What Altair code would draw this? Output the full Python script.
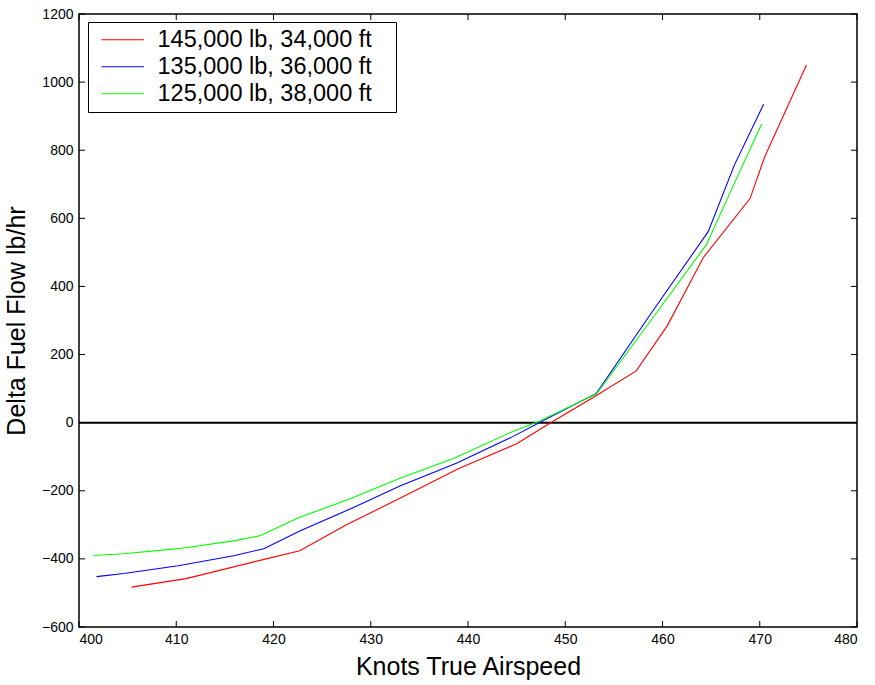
import altair as alt
import pandas as pd

series_names = ["145,000 lb, 34,000 ft", "135,000 lb, 36,000 ft", "125,000 lb, 38,000 ft"]
series_colors = ["#ff0000", "#0000ff", "#00ff00"]

red_x = [405.4, 411.0, 418.5, 422.7, 427.5, 433.0, 439.0, 445.0, 448.5, 453.2, 457.3, 460.5, 464.2, 469.0, 470.5, 474.8]
red_y = [-483, -458, -405, -376, -300, -222, -135, -62, 0, 80, 152, 285, 485, 658, 780, 1050]

blue_x = [401.8, 404.6, 410.2, 415.9, 419.0, 422.7, 428.0, 433.0, 438.8, 444.6, 447.5, 453.2, 458.8, 464.7, 467.4, 470.4]
blue_y = [-452, -443, -420, -391, -370, -318, -252, -186, -119, -41, 3, 86, 320, 561, 757, 935]

green_x = [401.5, 404.6, 410.2, 415.9, 418.6, 422.7, 428.0, 433.0, 438.5, 444.6, 447.2, 453.2, 458.8, 464.5, 467.5, 470.2]
green_y = [-390, -385, -370, -347, -332, -278, -222, -163, -105, -26, 3, 84, 300, 522, 710, 877]

x_ticks = [400, 410, 420, 430, 440, 450, 460, 470, 480]
y_ticks = [-600, -400, -200, 0, 200, 400, 600, 800, 1000, 1200]

W, H = 778, 613
FONT = "Liberation Sans"

rows = []
for name, xs, ys in zip(series_names, [red_x, blue_x, green_x], [red_y, blue_y, green_y]):
    for xv, yv in zip(xs, ys):
        rows.append({"series": name, "x": xv, "y": yv})
df = pd.DataFrame(rows)

xscale = alt.Scale(domain=[400, 480], nice=False, zero=False)
yscale = alt.Scale(domain=[-600, 1200], nice=False, zero=False)

PAD = "\u2800"

lines = alt.Chart(df).mark_line(strokeWidth=1.1).encode(
    x=alt.X("x:Q", scale=xscale,
            axis=alt.Axis(values=x_ticks, format="d", title="Knots True Airspeed", ticks=False,
                          labelFontSize=14, labelPadding=5, titleFontSize=25,
                          titleFontWeight="normal", titlePadding=8, grid=False,
                          domain=False, labelFont=FONT, titleFont=FONT, labelColor="black",
                          titleColor="black")),
    y=alt.Y("y:Q", scale=yscale,
            axis=alt.Axis(values=y_ticks, format="d", title="Delta Fuel Flow lb/hr", ticks=False,
                          labelFontSize=14, labelPadding=6, titleFontSize=25,
                          titleFontWeight="normal", titlePadding=12, grid=False,
                          domain=False, labelFont=FONT, titleFont=FONT, labelColor="black",
                          titleColor="black")),
    color=alt.Color("series:N",
                    scale=alt.Scale(domain=series_names, range=series_colors),
                    legend=alt.Legend(title=None, orient="none", legendX=9, legendY=8,
                                      symbolType="M-2,0H2", symbolSize=450, symbolStrokeWidth=1.1,
                                      symbolOffset=17,
                                      labelFontSize=23.5, labelFont=FONT, labelColor="black",
                                      labelExpr="datum.label + '" + PAD + "'",
                                      strokeColor="black", fillColor="white", padding=6,
                                      rowPadding=2, labelOffset=23, labelLimit=400,
                                      cornerRadius=0)),
)

zero = alt.Chart(pd.DataFrame({"z": [0]})).mark_rule(color="black", strokeWidth=2).encode(
    y=alt.Y("z:Q", scale=yscale), x=alt.value(0), x2=alt.value(W)
)

xt = pd.DataFrame({"t": x_ticks})
yt = pd.DataFrame({"t": y_ticks})
tick_len = 6
bottom_ticks = alt.Chart(xt).mark_rule(color="black", strokeWidth=1).encode(
    x=alt.X("t:Q", scale=xscale), y=alt.value(H), y2=alt.value(H - tick_len))
top_ticks = alt.Chart(xt).mark_rule(color="black", strokeWidth=1).encode(
    x=alt.X("t:Q", scale=xscale), y=alt.value(0), y2=alt.value(tick_len))
left_ticks = alt.Chart(yt).mark_rule(color="black", strokeWidth=1).encode(
    y=alt.Y("t:Q", scale=yscale), x=alt.value(0), x2=alt.value(tick_len))
right_ticks = alt.Chart(yt).mark_rule(color="black", strokeWidth=1).encode(
    y=alt.Y("t:Q", scale=yscale), x=alt.value(W), x2=alt.value(W - tick_len))

chart = alt.layer(zero, bottom_ticks, top_ticks, left_ticks, right_ticks, lines).properties(
    width=W, height=H,
    autosize=alt.AutoSizeParams(type="none"),
    padding={"left": 79, "top": 14, "right": 18, "bottom": 58},
    background="white",
).configure_view(stroke="black", strokeWidth=1.5)

chart.save("out.html", embed_options={"renderer": "svg", "actions": False})
